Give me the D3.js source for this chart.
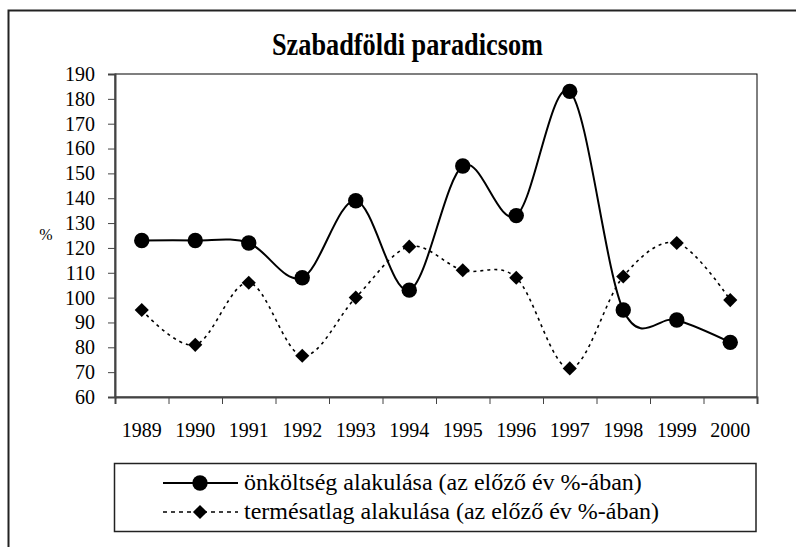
<!DOCTYPE html>
<html>
<head>
<meta charset="utf-8">
<script src="https://cdn.jsdelivr.net/npm/d3@7"></script>
<style>
  body { margin: 0; background: #fff; }
  text { font-family: "Liberation Serif", "Times New Roman", serif; fill: #000; }
</style>
</head>
<body>
<div id="chart"></div>
<script>
// data
var years = ["1989", "1990", "1991", "1992", "1993", "1994", "1995", "1996", "1997", "1998", "1999", "2000"];
var onkoltseg = [123, 123, 122, 108, 139, 103, 153, 133, 183, 95, 91, 82];
var termesatlag = [95, 81, 106, 76.6, 100, 120.5, 111, 108, 71.5, 108.5, 122, 99];
var yTicks = [60, 70, 80, 90, 100, 110, 120, 130, 140, 150, 160, 170, 180, 190];
var title = "Szabadföldi paradicsom";
var legendLabels = ["önköltség alakulása (az előző év %-ában)", "termésatlag alakulása (az előző év %-ában)"];

var W = 796, H = 547;
var plot = { left: 115, right: 757, top: 74, bottom: 397 };
var serif = "Liberation Serif, Times New Roman, serif";

var svg = d3.select("#chart").append("svg")
    .attr("width", W)
    .attr("height", H);

// outer frame (only left and top edges are inside the picture)
svg.append("path")
    .attr("d", "M8.5," + H + "V10.5H" + W)
    .attr("fill", "none")
    .attr("stroke", "#222")
    .attr("stroke-width", 2);

svg.append("text")
    .attr("x", 272)
    .attr("y", 55)
    .attr("font-family", serif)
    .attr("font-size", 32)
    .attr("font-weight", "bold")
    .attr("textLength", 271)
    .attr("lengthAdjust", "spacingAndGlyphs")
    .text(title);

var x = d3.scaleBand().domain(years).range([plot.left, plot.right]);
var xEdge = d3.scaleLinear().domain([0, years.length]).range([plot.left, plot.right]);
var y = d3.scaleLinear().domain([60, 190]).range([plot.bottom, plot.top]);

// plot box
svg.append("rect")
    .attr("x", plot.left)
    .attr("y", plot.top)
    .attr("width", plot.right - plot.left)
    .attr("height", plot.bottom - plot.top)
    .attr("fill", "none")
    .attr("stroke", "#000")
    .attr("stroke-width", 1);

// y axis
var gy = svg.append("g")
    .attr("transform", "translate(" + plot.left + ",0)")
    .call(d3.axisLeft(y).tickValues(yTicks).tickSize(7).tickPadding(13));
gy.attr("font-family", serif);
gy.select(".domain").attr("stroke", "#444").attr("stroke-width", 2);
gy.selectAll(".tick line").attr("stroke", "#444");
gy.selectAll(".tick text").attr("font-size", 20);

svg.append("text")
    .attr("x", 46)
    .attr("y", 240)
    .attr("text-anchor", "middle")
    .attr("font-family", serif)
    .attr("font-size", 16)
    .text("%");

// x axis: ticks on category edges, labels in the middle
var gxTicks = svg.append("g")
    .attr("transform", "translate(0," + plot.bottom + ")")
    .call(d3.axisBottom(xEdge).ticks(years.length).tickSize(7).tickFormat(""));
gxTicks.select(".domain").attr("stroke", "#444").attr("stroke-width", 2);
gxTicks.selectAll(".tick line").attr("stroke", "#444");

var gx = svg.append("g")
    .attr("transform", "translate(0," + plot.bottom + ")")
    .call(d3.axisBottom(x).tickSize(0).tickPadding(26));
gx.attr("font-family", serif);
gx.select(".domain").remove();
gx.selectAll(".tick text").attr("font-size", 20);

var cx = function(i) { return x(years[i]) + x.bandwidth() / 2; };

var line = d3.line()
    .x(function(d, i) { return cx(i); })
    .y(function(d) { return y(d); })
    .curve(d3.curveCardinal.tension(0));

svg.append("path")
    .datum(termesatlag)
    .attr("d", line)
    .attr("fill", "none")
    .attr("stroke", "#000")
    .attr("stroke-width", 1.6)
    .attr("stroke-dasharray", "3,4");

svg.append("path")
    .datum(onkoltseg)
    .attr("d", line)
    .attr("fill", "none")
    .attr("stroke", "#000")
    .attr("stroke-width", 2);

var diamond = d3.symbol().type(d3.symbolSquare).size(100);

svg.append("g").selectAll("path")
    .data(termesatlag)
    .join("path")
    .attr("d", diamond)
    .attr("transform", function(d, i) { return "translate(" + cx(i) + "," + y(d) + ") rotate(45)"; })
    .attr("fill", "#000");

svg.append("g").selectAll("circle")
    .data(onkoltseg)
    .join("circle")
    .attr("cx", function(d, i) { return cx(i); })
    .attr("cy", function(d) { return y(d); })
    .attr("r", 7.7)
    .attr("fill", "#000");

// legend
var lg = svg.append("g");
lg.append("rect")
    .attr("x", 114.5)
    .attr("y", 463.5)
    .attr("width", 641.5)
    .attr("height", 68)
    .attr("fill", "none")
    .attr("stroke", "#222")
    .attr("stroke-width", 1.5);

var rows = [483, 512];
rows.forEach(function(ry, k) {
    lg.append("line")
        .attr("x1", 163).attr("x2", 238)
        .attr("y1", ry).attr("y2", ry)
        .attr("stroke", "#000")
        .attr("stroke-width", k === 0 ? 2 : 1.6)
        .attr("stroke-dasharray", k === 0 ? null : "4,4");
    if (k === 0) {
        lg.append("circle").attr("cx", 200).attr("cy", ry).attr("r", 7.7).attr("fill", "#000");
    } else {
        lg.append("path").attr("d", diamond)
            .attr("transform", "translate(200," + ry + ") rotate(45)")
            .attr("fill", "#000");
    }
    lg.append("text")
        .attr("x", 244)
        .attr("y", ry + 7)
        .attr("font-family", serif)
        .attr("font-size", 24)
        .text(legendLabels[k]);
});
</script>
</body>
</html>
